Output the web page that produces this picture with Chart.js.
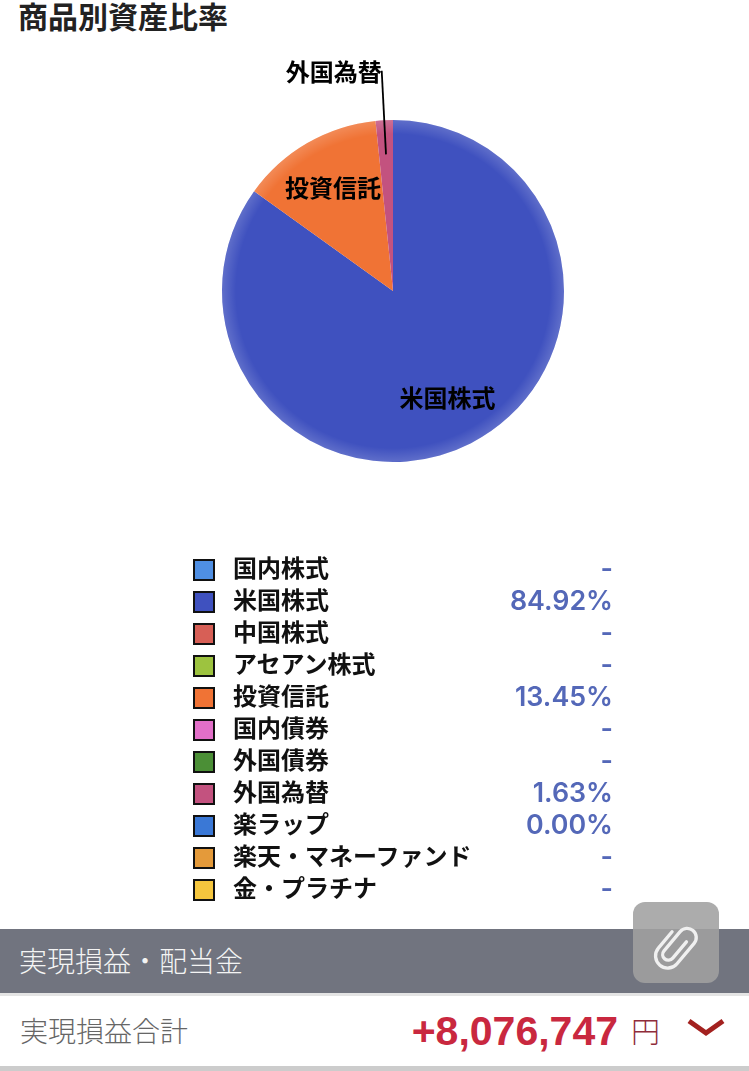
<!DOCTYPE html>
<html lang="ja"><head><meta charset="utf-8">
<script src="https://cdn.jsdelivr.net/npm/chart.js@4"></script>
<style>
html,body{margin:0;padding:0;background:#fff;width:749px;height:1071px;overflow:hidden}
body{font-family:"Noto Sans CJK JP","Noto Sans",sans-serif;position:relative}
.abs{position:absolute;white-space:nowrap}
#title{left:18px;top:-6px;font-size:30px;font-weight:700;line-height:42px;color:#222}
#chart{position:absolute;left:0;top:0}
.sw{position:absolute;left:193px;width:18px;height:18px;border:2px solid #111}
.lb{position:absolute;left:233px;font-size:24px;font-weight:700;line-height:32px;color:#111;white-space:nowrap}
.val{position:absolute;right:136px;font-family:Inter,"Noto Sans",sans-serif;font-size:26.8px;font-weight:600;line-height:32px;color:#5468b8}
#band{left:0;top:929px;width:749px;height:64px;background:#71747f}
#bandT{left:19px;top:940px;font-size:28px;line-height:40px;color:#f4f4f4;font-weight:300}
#sep{left:0;top:993px;width:749px;height:3px;background:#e4e4e4}
#rowT{left:20px;top:1010px;font-size:28px;line-height:40px;color:#666;font-weight:300}
#amt{right:131px;top:1007px;font-family:"Liberation Sans",sans-serif;font-size:41px;line-height:48px;font-weight:700;color:#c9283f}
#yen{left:631px;top:1010px;font-size:29px;line-height:40px;color:#8f2c3a;font-weight:300}
#bottom{left:0;top:1066px;width:749px;height:5px;background:#cccccc}
#clip{left:633px;top:902px;width:86px;height:81px;border-radius:12px;background:rgba(160,160,160,.88)}
</style></head><body>
<div class="abs" id="title">商品別資産比率</div>
<canvas id="chart" width="749" height="582"></canvas>
<div id="legend"></div>
<div class="abs" id="band"></div>
<div class="abs" id="bandT">実現損益・配当金</div>
<div class="abs" id="sep"></div>
<div class="abs" id="rowT">実現損益合計</div>
<div class="abs" id="amt">+8,076,747</div>
<div class="abs" id="yen">円</div>
<svg class="abs" style="left:686px;top:1017px" width="40" height="22" viewBox="0 0 40 22"><path d="M3 4 L20 16 L37 4" fill="none" stroke="#a3211f" stroke-width="5"/></svg>
<div class="abs" id="bottom"></div>
<div class="abs" id="clip">
<svg width="86" height="81" viewBox="0 0 86 81" style="position:absolute;left:0;top:0"><g transform="translate(43 44) scale(.76) rotate(40) translate(-43 -43)"><path d="M50 30 V58 a7.5 7.5 0 0 1 -15 0 V25 a12 12 0 0 1 24 0 V60 a16 16 0 0 1 -32 0 V32" fill="none" stroke="#f0f0f0" stroke-width="4.4" stroke-linecap="round"/></g></svg>
</div>
<script>
const categories = ["国内株式","米国株式","中国株式","アセアン株式","投資信託","国内債券","外国債券","外国為替","楽ラップ","楽天・マネーファンド","金・プラチナ"];
const shares = [null,84.92,null,null,13.45,null,null,1.63,0,null,null];
const colors = ["#4f8fe3","#3f51bf","#d75f56","#9dc33f","#f07335","#e26fc8","#4b8f36","#c3527f","#3a78d6","#e49a3a","#f5c63e"];
const leaderLabels = ["外国為替"];
const labelFont = '700 24px "Noto Sans CJK JP"';

const legend = document.getElementById('legend');
categories.forEach((c,i)=>{
  const y = 553 + i*32;
  legend.insertAdjacentHTML('beforeend',
    `<div class="sw" style="top:${y+6}px;background:${colors[i]}"></div>`+
    `<div class="lb" style="top:${y-2}px">${c}</div>`+
    `<div class="val" style="top:${y-1}px">${shares[i]===null?'-':shares[i].toFixed(2)+'%'}</div>`);
});

const pieExtras = {
  id:'pieExtras',
  afterDatasetsDraw(chart){
    const {ctx} = chart, arcs = chart.getDatasetMeta(0).data, a0 = arcs[0];
    const R = a0.outerRadius, cx = a0.x, cy = a0.y;
    const g = ctx.createRadialGradient(cx,cy,R-14,cx,cy,R);
    g.addColorStop(0,'rgba(255,255,255,0)');
    g.addColorStop(1,'rgba(255,255,255,.17)');
    ctx.save();
    ctx.fillStyle = g;
    ctx.beginPath(); ctx.arc(cx,cy,R,0,Math.PI*2); ctx.fill();
    ctx.font = labelFont; ctx.fillStyle = '#000'; ctx.textBaseline = 'middle';
    arcs.forEach((a,i)=>{
      if(!shares[i]) return;
      const mid = (a.startAngle+a.endAngle)/2;
      if(leaderLabels.includes(categories[i])){
        const x1 = cx+Math.cos(mid)*R*0.8, y1 = cy+Math.sin(mid)*R*0.8;
        const x2 = cx+Math.cos(mid)*R*1.29, y2 = cy+Math.sin(mid)*R*1.29;
        ctx.strokeStyle='#000'; ctx.lineWidth=1.8;
        ctx.beginPath(); ctx.moveTo(x1,y1); ctx.lineTo(x2,y2); ctx.stroke();
        ctx.textAlign='right'; ctx.fillText(categories[i],x2,y2+1);
      } else {
        ctx.textAlign='center';
        ctx.fillText(categories[i],cx+Math.cos(mid)*R*0.70,cy+Math.sin(mid)*R*0.70);
      }
    });
    ctx.restore();
  }
};

new Chart(document.getElementById('chart'),{
  type:'pie',
  data:{labels:categories,datasets:[{data:shares.map(v=>v===null?0:v),backgroundColor:colors,borderWidth:0}]},
  options:{
    responsive:false,maintainAspectRatio:false,animation:false,
    layout:{padding:{left:37,top:120,bottom:120,right:0}},
    plugins:{legend:{display:false},tooltip:{enabled:false},title:{display:false}}
  },
  plugins:[pieExtras]
});
</script>
</body></html>
